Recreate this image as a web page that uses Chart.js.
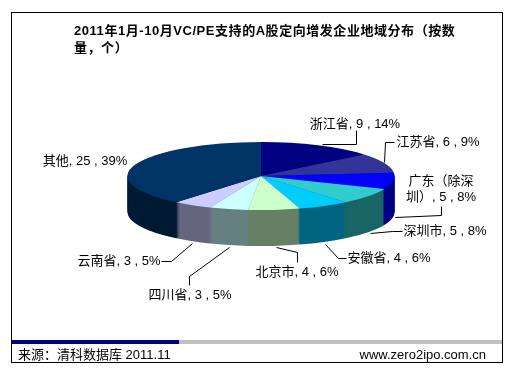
<!DOCTYPE html>
<html lang="zh-CN">

<head>
  <meta charset="UTF-8" />
  <title>VC/PE</title>
  <script src="https://cdn.jsdelivr.net/npm/chart.js@4/dist/chart.umd.min.js"></script>
  <style>
    html, body { margin: 0; padding: 0; background: #fff; }
    body { width: 518px; height: 374px; position: relative; overflow: hidden; font-family: "Liberation Sans", "Noto Sans CJK SC", sans-serif; color: #000; }
    #chart { position: absolute; left: 0; top: 0; }
    #box { position: absolute; left: 11px; top: 12px; width: 492px; height: 351px; box-sizing: border-box; border: 1px solid #000; }
    #title { position: absolute; left: 74px; top: 22px; width: 400px; font-size: 13px; letter-spacing: 0.55px; font-weight: bold; line-height: 17px; white-space: nowrap; }
    #bar1 { position: absolute; left: 12px; top: 340px; width: 167px; height: 4px; background: #000080; }
    #bar2 { position: absolute; left: 179px; top: 340px; width: 323px; height: 4px; background: #c0c0c0; }
    #source { position: absolute; left: 18px; top: 347px; font-size: 13px; line-height: 15px; }
    #site { position: absolute; right: 32px; top: 347px; font-size: 13px; line-height: 15px; }
  </style>
</head>

<body>
  <canvas id="chart" width="518" height="374"></canvas>
  <div id="box"></div>
  <div id="title">2011年1月-10月VC/PE支持的A股定向增发企业地域分布（按数<br />量，个）</div>
  <div id="bar1"></div>
  <div id="bar2"></div>
  <div id="source">来源：清科数据库 2011.11</div>
  <div id="site">www.zero2ipo.com.cn</div>

  <script>
    const categories = ["浙江省", "江苏省", "广东（除深圳）", "深圳市", "安徽省", "北京市", "四川省", "云南省", "其他"];
    const counts = [9, 6, 5, 5, 4, 4, 3, 3, 25];
    const percents = [14, 9, 8, 8, 6, 6, 5, 5, 39];
    const topColors = ["#000080", "#333399", "#0000ff", "#33cccc", "#00ccff", "#ccffcc", "#ccffff", "#ccccff", "#003366"];
    const sideColors = ["#000040", "#1a1a4d", "#000080", "#1a6666", "#006680", "#668066", "#668080", "#666680", "#001a33"];

    const squash = 0.255;
    const depth = 36;

    // label text position and leader line, one per slice (x is the text centre)
    const labelLayout = [
      { x: 355, y: 124, leader: [[322, 144], [356, 144], [356, 130]] },
      { x: 438, y: 142, leader: [[384, 162], [385, 142], [394, 142]] },
      { x: 441, y: 181, wrap: ["广东（除深", "圳）"], leader: [[395, 217], [441, 215], [441, 206]] },
      { x: 445, y: 231, leader: [[370, 233], [392, 231], [402, 231]] },
      { x: 389, y: 258, leader: [[325, 244], [338, 258], [346, 258]] },
      { x: 297, y: 272, leader: [[276, 247], [297, 252], [297, 262]] },
      { x: 190, y: 295, leader: [[229, 247], [189, 276], [189, 285]] },
      { x: 119, y: 261, leader: [[192, 243], [171, 261], [161, 261]] },
      { x: 85, y: 161, leader: [] },
    ];

    const pie3d = {
      id: "pie3d",
      beforeDatasetsDraw(chart) {
        const ctx = chart.ctx;
        const arcs = chart.getDatasetMeta(0).data;
        const cx = arcs[0].x, cy = arcs[0].y;
        // side wall: the same arcs stacked downward in the darker colour
        for (let d = depth; d >= 1; d--) {
          ctx.save();
          ctx.translate(cx, cy + d);
          ctx.scale(1, squash);
          ctx.translate(-cx, -cy);
          arcs.forEach((arc, i) => {
            const saved = arc.options;
            arc.options = Object.assign(Object.create(saved), { backgroundColor: sideColors[i], borderColor: sideColors[i] });
            arc.draw(ctx);
            arc.options = saved;
          });
          ctx.restore();
        }
        ctx.save();
        ctx.translate(cx, cy);
        ctx.scale(1, squash);
        ctx.translate(-cx, -cy);
      },
      afterDatasetsDraw(chart) {
        const ctx = chart.ctx;
        ctx.restore();
        ctx.save();
        ctx.font = '13px "Liberation Sans", "Noto Sans CJK SC", sans-serif';
        ctx.fillStyle = "#000";
        ctx.strokeStyle = "#000";
        ctx.lineWidth = 1;
        ctx.textAlign = "center";
        ctx.textBaseline = "middle";
        labelLayout.forEach((l, i) => {
          const tail = `, ${counts[i]} , ${percents[i]}%`;
          const lines = l.wrap ? [l.wrap[0], l.wrap[1] + tail] : [categories[i] + tail];
          lines.forEach((t, j) => ctx.fillText(t, l.x, l.y + j * 16));
          if (l.leader.length) {
            ctx.beginPath();
            l.leader.forEach((p, j) => (j ? ctx.lineTo(p[0] + 0.5, p[1] + 0.5) : ctx.moveTo(p[0] + 0.5, p[1] + 0.5)));
            ctx.stroke();
          }
        });
        ctx.restore();
      },
    };

    new Chart(document.getElementById("chart").getContext("2d"), {
      type: "pie",
      data: {
        labels: categories,
        datasets: [{
          data: counts,
          backgroundColor: topColors,
          borderColor: topColors,
          borderWidth: 0,
          clip: false,
        }],
      },
      options: {
        responsive: false,
        animation: false,
        events: [],
        layout: { padding: { left: 127.5, right: 123.5, top: 42.5, bottom: 64.5 } },
        plugins: { legend: { display: false }, tooltip: { enabled: false } },
      },
      plugins: [pie3d],
    });
  </script>
</body>

</html>
